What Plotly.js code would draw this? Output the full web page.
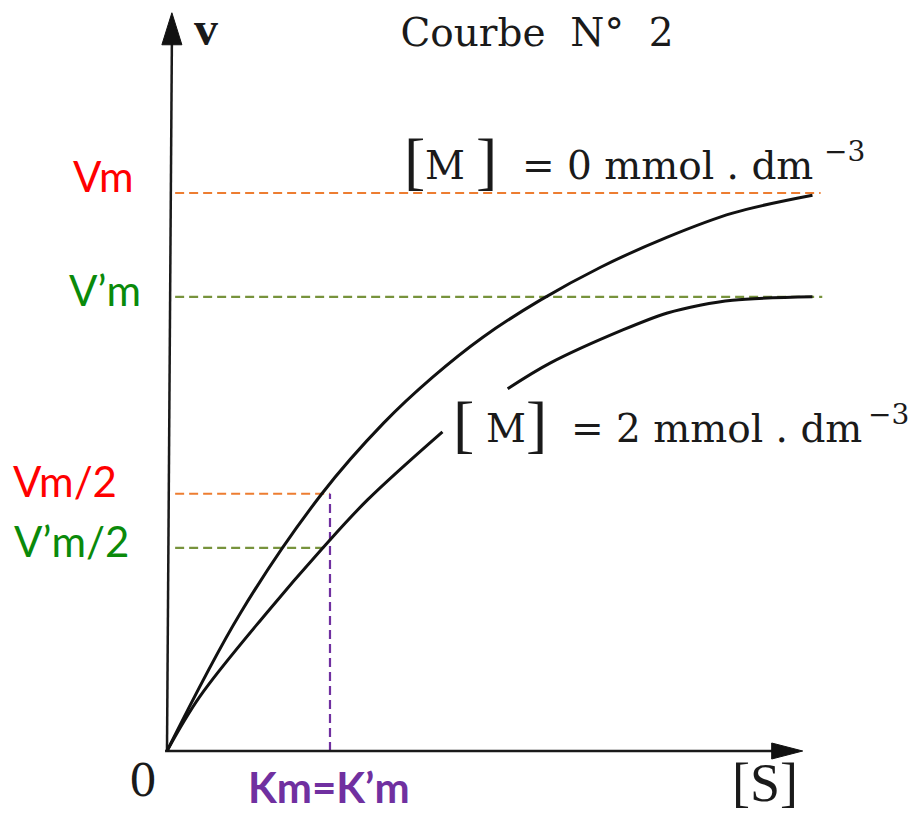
<!DOCTYPE html>
<html>
<head>
<meta charset="utf-8">
<script src="https://cdn.plot.ly/plotly-3.0.1.min.js"></script>
<style>html,body{margin:0;padding:0;background:#fff;}</style>
</head>
<body>
<div id="chart" style="width:912px;height:815px;"></div>
<script>
// ---- data (x = [S] in units of Km, y = v in units of Vm/10) ----
const curveM0_S = [0, 0.45, 0.95, 1.33, 1.63, 1.94, 2.29, 2.66, 3.07, 3.47, 3.96];
const curveM0_v = [0, 2.47, 4.61, 5.88, 6.70, 7.42, 8.08, 8.67, 9.21, 9.64, 9.96];
const curveM2_S = [0, 0.20, 0.61, 0.95, 1.23, 1.69, null, 2.09, 2.35, 2.80, 3.07, 3.27, 3.47, 3.96];
const curveM2_v = [0, 0.97, 2.47, 3.62, 4.50, 5.72, null, 6.49, 6.95, 7.55, 7.85, 7.99, 8.08, 8.14];

const levelNames  = ['Vm', 'V’m', 'Vm/2', 'V’m/2'];
const levelValues = [10.0, 8.14, 4.61, 3.64];
const levelEndS   = [4.01, 4.02, 1.0, 1.0];
const levelStartS = 0.05;
const Km = 1.0;
const kmLabel = 'Km=K’m';

const xAxisEnd = 3.90;   // arrow tip of [S] axis
const yAxisEnd = 13.23;  // arrow tip of v axis
const xAxisLabel = '[S]';
const yAxisLabel = 'v';
const originLabel = '0';
const titleText = 'Courbe  N°  2';
const labelM0 = ['[', 'M', ']', '= 0 mmol . dm', '−3'];
const labelM2 = ['[', 'M', ']', '= 2 mmol . dm', '−3'];

// ---- styling ----
const ORANGE = '#ED7D31', OLIVE = '#77933C', PURPLE = '#7030A0';
const RED = '#FF0000', GREEN = '#0A8A0A';
const levelLineColors = [ORANGE, OLIVE, ORANGE, OLIVE];
const levelTextColors = [RED, GREEN, RED, GREEN];
const serif = 'Liberation Serif, Times New Roman, serif';
const wserif = 'DejaVu Serif, serif';
const sans = 'Lato, Noto Sans, sans-serif';
const INK = '#1a1a1a';

// page geometry (plot spans the whole page, no margins)
const W = 912, H = 815;
const xRange = [-1.0245, 4.5706];
const yRange = [-1.147, 13.459];
const pxX = W / (xRange[1] - xRange[0]);
const pxY = H / (yRange[1] - yRange[0]);
const px2x = p => xRange[0] + p / pxX;         // page pixel -> x data (for label placement)
const px2y = p => yRange[1] - p / pxY;         // page pixel -> y data (for label placement)

const traces = [];

// dashed reference lines (horizontal levels)
levelValues.forEach((v, i) => {
  traces.push({
    x: [levelStartS, levelEndS[i]], y: [v, v], mode: 'lines', hoverinfo: 'skip',
    line: {color: levelLineColors[i], width: 2.2, dash: '9px,5px'}
  });
});
// Km vertical
traces.push({
  x: [Km, Km], y: [0, levelValues[2]], mode: 'lines', hoverinfo: 'skip',
  line: {color: PURPLE, width: 2.2, dash: '9px,5px'}
});

// axes
const yTopS = 0.03;
traces.push({x: [-0.012, xAxisEnd - 30 / pxX], y: [0, 0], mode: 'lines', line: {color: INK, width: 2.5}, hoverinfo: 'skip'});
traces.push({x: [0, yTopS], y: [0, yAxisEnd - 30 / pxY], mode: 'lines', line: {color: INK, width: 2.5}, hoverinfo: 'skip'});
// arrowheads (computed from the axis ends)
const ahL = 31, ahW = 8;
traces.push({
  x: [xAxisEnd - ahL / pxX, xAxisEnd - ahL / pxX, xAxisEnd, xAxisEnd - ahL / pxX],
  y: [-ahW / pxY, ahW / pxY, 0, -ahW / pxY],
  mode: 'lines', fill: 'toself', fillcolor: '#111', line: {color: '#111', width: 1}, hoverinfo: 'skip'
});
const ahL2 = 32, ahW2 = 10;
traces.push({
  x: [yTopS - ahW2 / pxX, yTopS + ahW2 / pxX, yTopS, yTopS - ahW2 / pxX],
  y: [yAxisEnd - ahL2 / pxY, yAxisEnd - ahL2 / pxY, yAxisEnd, yAxisEnd - ahL2 / pxY],
  mode: 'lines', fill: 'toself', fillcolor: '#111', line: {color: '#111', width: 1}, hoverinfo: 'skip'
});

// curves
traces.push({x: curveM0_S, y: curveM0_v, mode: 'lines', line: {color: '#111', width: 3, shape: 'spline', smoothing: 1}, hoverinfo: 'skip'});
traces.push({x: curveM2_S, y: curveM2_v, mode: 'lines', connectgaps: false, line: {color: '#111', width: 3, shape: 'spline', smoothing: 1}, hoverinfo: 'skip'});

const annotations = [];
function ann(text, pxLeft, pxCenterY, font, anchor) {
  annotations.push({
    x: px2x(pxLeft), y: px2y(pxCenterY), xref: 'x', yref: 'y',
    xanchor: anchor || 'left', yanchor: 'middle', showarrow: false, text: text, font: font
  });
}

// level labels (right-aligned at their right edges, centred near their dashed lines)
const levelLabelRight = [136, 143, 119, 131];
const levelLabelCenter = [176, 290, 481, 541];
levelNames.forEach((name, i) => {
  ann(name, levelLabelRight[i], levelLabelCenter[i], {family: sans, size: 42, color: levelTextColors[i]}, 'right');
});

ann(kmLabel, 329, 787, {family: sans, size: 42, color: PURPLE, weight: 'bold'}, 'center');
ann(originLabel, 143, 780, {family: wserif, size: 44, color: INK}, 'center');
ann(xAxisLabel, 765, 783, {family: serif, size: 54, color: INK}, 'center');
ann(yAxisLabel, 192, 28, {family: serif, size: 48, color: INK, weight: 'bold'}, 'left');

// [M] labels, pieces: big brackets + text + raised exponent
function mLabel(parts, left, baseline) {
  ann(parts[0], left[0], baseline - 20, {family: serif, size: 64, color: INK}, 'left');
  ann(parts[1], left[1], baseline - 15, {family: wserif, size: 39, color: INK}, 'left');
  ann(parts[2], left[2], baseline - 20, {family: serif, size: 64, color: INK}, 'left');
  ann(parts[3], left[3], baseline - 15, {family: wserif, size: 39, color: INK}, 'left');
  ann(parts[4], left[4], baseline - 29, {family: wserif, size: 28, color: INK}, 'left');
}
mLabel(labelM0, [402, 423, 474, 520, 822], 180);
mLabel(labelM2, [451, 484, 524, 569, 866], 443);

const layout = {
  width: W, height: H,
  margin: {l: 0, r: 0, t: 0, b: 0},
  paper_bgcolor: '#fff', plot_bgcolor: '#fff',
  showlegend: false,
  title: {text: titleText, x: 537 / W, xanchor: 'center', y: 1 - 32 / H, yanchor: 'middle',
          font: {family: wserif, size: 39, color: INK}},
  xaxis: {range: xRange, visible: false, fixedrange: true},
  yaxis: {range: yRange, visible: false, fixedrange: true},
  annotations: annotations
};

Plotly.newPlot('chart', traces, layout, {staticPlot: true, displayModeBar: false});
</script>
</body>
</html>
